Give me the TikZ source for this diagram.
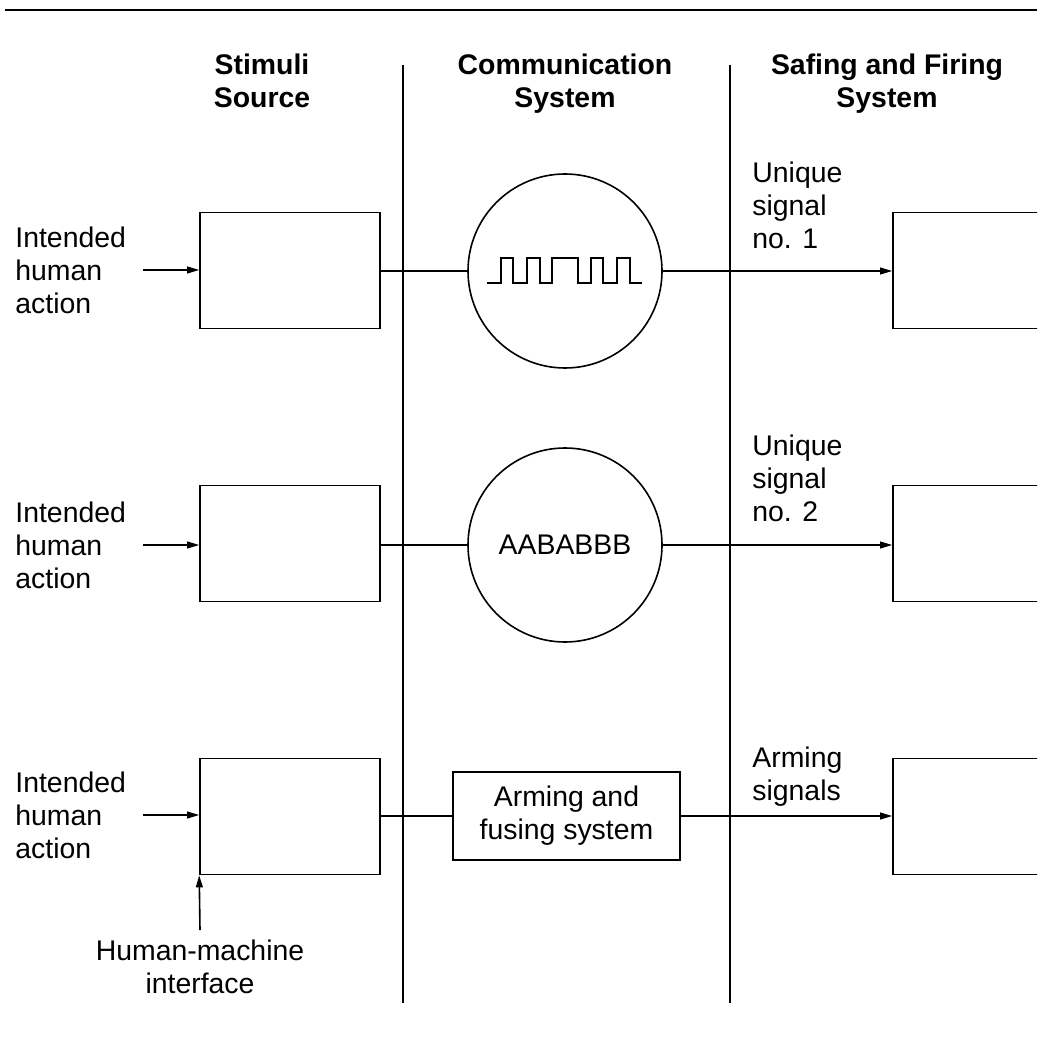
\documentclass[tikz,border=0pt]{standalone}
\usepackage{fontspec}
\setmainfont{Liberation Sans}
\usetikzlibrary{arrows.meta}
\begin{document}
\begin{tikzpicture}[x=0.5pt,y=-0.5pt,
  txt/.style={font=\fontsize{14.2}{16.5}\selectfont, inner sep=0pt},
  hdr/.style={txt, font=\fontsize{14.2}{16.5}\selectfont\bfseries, align=center, anchor=north},
  lbl/.style={txt, align=left, anchor=west},
  box/.style={draw, line width=0.8pt, minimum width=90pt, minimum height=58pt, inner sep=0pt},
  sig/.style={draw, circle, line width=0.8pt, minimum size=97pt, inner sep=0pt, txt},
  conn/.style={line width=0.8pt},
  arr/.style={line width=0.8pt, -{Triangle[length=6pt,width=3.4pt]}},
  rule/.style={line width=0.7pt}
]
\path[use as bounding box] (0,0) rectangle (1037,1042);
\clip (0,0) rectangle (1037,1042);

% top rule and column separators
\draw[line width=1.2pt] (5,10) -- (1037,10);
\draw[rule] (403,65) -- (403,1003);
\draw[rule] (730,65) -- (730,1003);

% headers
\node[hdr] (h1) at (262,54) {Stimuli\\Source};
\node[hdr] (h2) at (565,54) {Communication\\System};
\node[hdr] (h3) at (887,54) {Safing and Firing\\System};

% left boxes
\node[box] (L1) at (290,270.5) {};
\node[box] (L2) at (290,543.5) {};
\node[box] (L3) at (290,816.5) {};

% right boxes (cut by the right edge)
\node[box] (R1) at (983,270.5) {};
\node[box] (R2) at (983,543.5) {};
\node[box] (R3) at (983,816.5) {};

% communication elements
\node[sig] (C1) at (565,271) {};
\node[sig] (C2) at (565,545) {AABABBB};
\node[box, txt, align=center, minimum width=113.5pt, minimum height=44pt] (C3) at (566.5,816) {Arming and\\fusing system};

% waveform
\begin{scope}[shift={(C1.center)}]
\draw[conn] (-78,12) -- (-64,12) -- (-64,-13) -- (-52,-13) -- (-52,12)
  -- (-38,12) -- (-38,-13) -- (-25,-13) -- (-25,12)
  -- (-13,12) -- (-13,-13) -- (13,-13) -- (13,12)
  -- (26,12) -- (26,-13) -- (38,-13) -- (38,12)
  -- (52,12) -- (52,-13) -- (65,-13) -- (65,12) -- (77,12);
\end{scope}

% input labels
\node[lbl] (I1) at (15,270) {Intended\\human\\action};
\node[lbl] (I2) at (15,545) {Intended\\human\\action};
\node[lbl] (I3) at (15,815) {Intended\\human\\action};

\coordinate (a1) at (143,270);
\coordinate (a2) at (143,545);
\coordinate (a3) at (143,815);
\draw[arr] (a1) -- (a1 -| L1.west);
\draw[arr] (a2) -- (a2 -| L2.west);
\draw[arr] (a3) -- (a3 -| L3.west);

% connections
\draw[conn] (L1.east |- C1.west) -- (C1.west);
\draw[conn] (L2.east |- C2.west) -- (C2.west);
\draw[conn] (L3.east |- C3.west) -- (C3.west);
\draw[arr] (C1.east) -- (C1.east -| R1.west);
\draw[arr] (C2.east) -- (C2.east -| R2.west);
\draw[arr] (C3.east) -- (C3.east -| R3.west);

% signal labels
\node[lbl] (S1) at (752,205) {Unique\\signal\\no. 1};
\node[lbl] (S2) at (752,478) {Unique\\signal\\no. 2};
\node[lbl] (S3) at (752,777) {Arming\\signals};

% human-machine interface
\node[txt, align=center] (HM) at (200,967) {Human-machine\\interface};
\coordinate (hm) at (200,930);
\draw[arr] (hm) -- (L3.south west);
\end{tikzpicture}
\end{document}
